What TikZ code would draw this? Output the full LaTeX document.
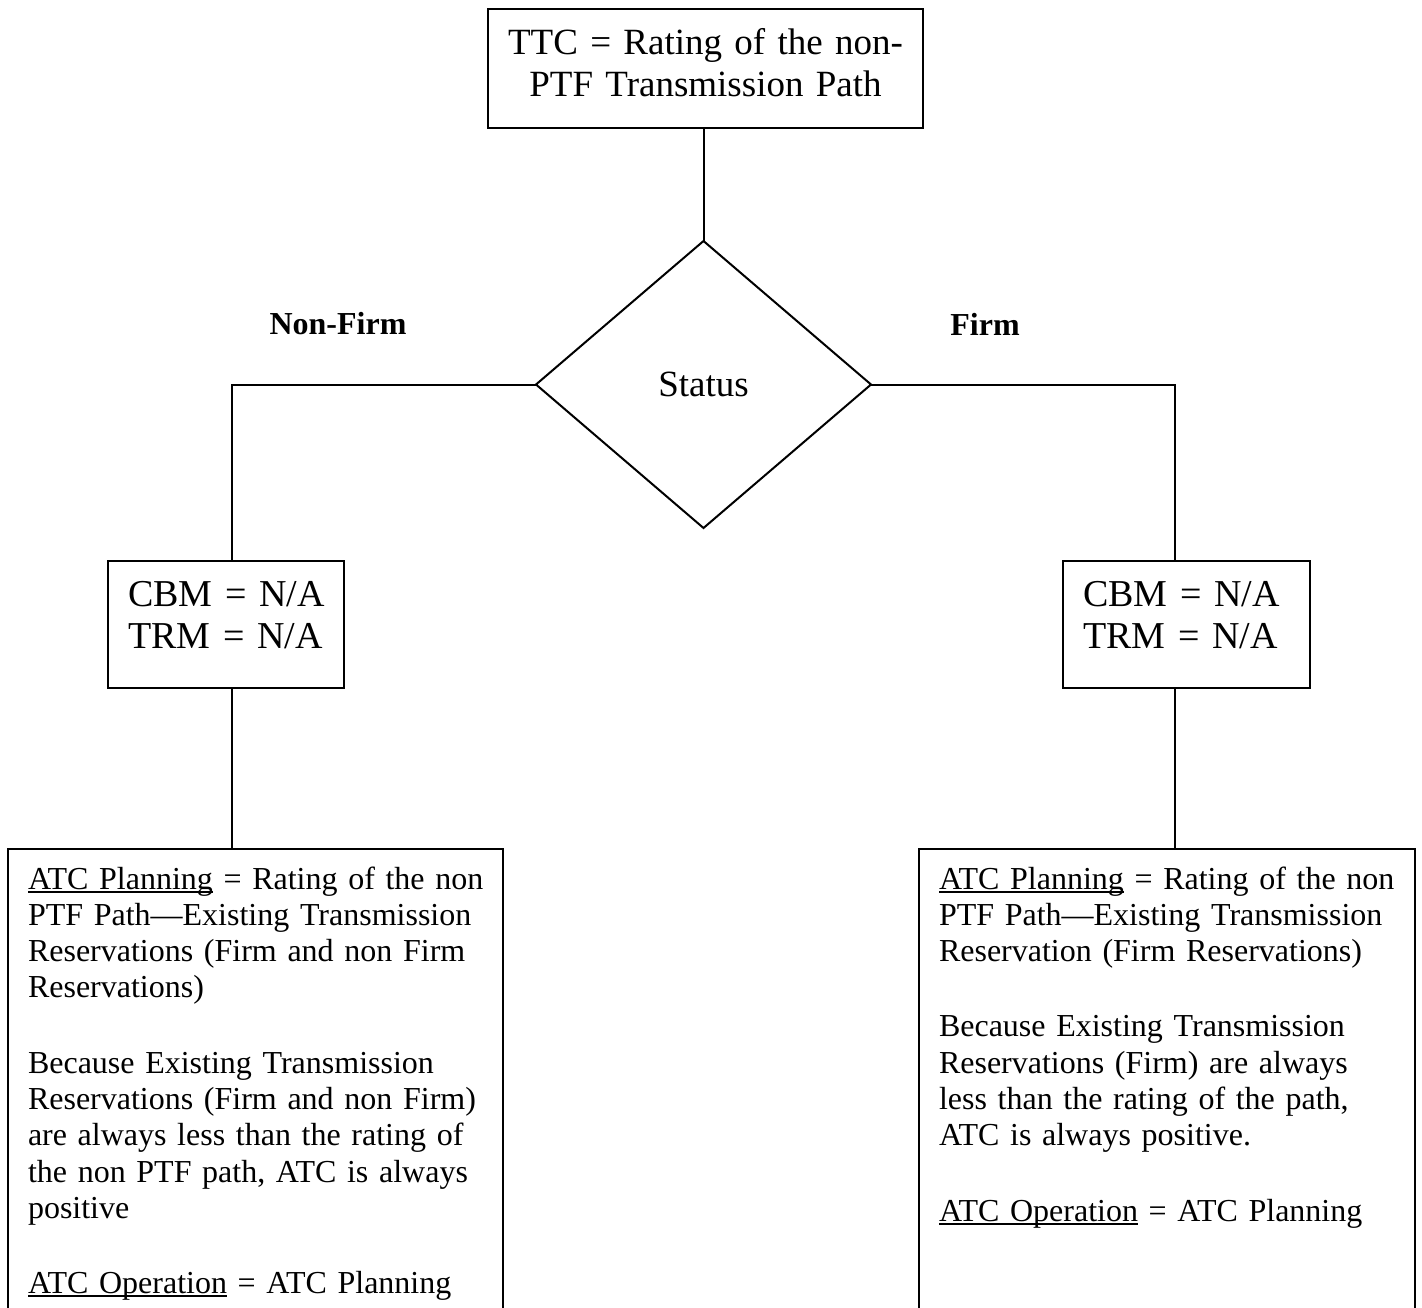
\documentclass[tikz,border=0pt]{standalone}
\usepackage{fontspec}
\setmainfont[WordSpace=0.92]{Liberation Serif}
\usetikzlibrary{shapes.geometric}
\newcommand\myul[1]{\leavevmode\setbox0\hbox{#1}\rlap{\rule[-3.5pt]{\wd0}{1.8pt}}\box0\relax}
\begin{document}
\begin{tikzpicture}[x=1pt,y=-1pt,line width=2pt,
  every node/.style={outer sep=0pt},
  topbox/.style={draw, anchor=north west, inner xsep=0pt, inner ysep=0pt, align=center,
    font=\fontsize{37}{42}\selectfont, text height=46pt, text depth=73pt},
  cbmbox/.style={draw, anchor=north west, inner xsep=20pt, inner ysep=0pt, align=left,
    font=\fontsize{38}{42}\selectfont, text height=45pt, text depth=82pt},
  atcbox/.style={draw, anchor=north west, inner xsep=20pt, inner ysep=0pt, align=left,
    font=\fontsize{32}{36.3}\selectfont, text height=40pt, text depth=520pt},
  decision/.style={draw, diamond, inner sep=0pt, minimum width=335pt, minimum height=287pt,
    font=\fontsize{37}{42}\selectfont},
  branch/.style={font=\fontsize{32}{36}\selectfont\bfseries}]
\useasboundingbox (0,0) rectangle (1422,1308);
\clip (0,0) rectangle (1422,1308);

\node[topbox, text width=435pt] (ttc) at (488,9)
  {TTC = Rating of the non-\\PTF Transmission Path};

\node[decision] (dia) at (703.5,384.5) {Status};

\node[branch] (nf) at (338,324) {Non-Firm};
\node[branch] (fi) at (985,324) {Firm};

\node[cbmbox, text width=196pt] (cbmL) at (108,561) {\mbox{CBM = N/A}\\\mbox{TRM = N/A}};
\node[cbmbox, text width=207pt] (cbmR) at (1063,561) {\mbox{CBM = N/A}\\\mbox{TRM = N/A}};

\node[atcbox, text width=455pt] (atcL) at (8,849)
  {\mbox{\myul{ATC Planning} = Rating of the non}\\
   \mbox{PTF Path—Existing Transmission}\\
   \mbox{Reservations (Firm and non Firm}\\
   Reservations)\\[39pt]
   \mbox{Because Existing Transmission}\\
   \mbox{Reservations (Firm and non Firm)}\\
   \mbox{are always less than the rating of}\\
   \mbox{the non PTF path, ATC is always}\\
   positive\\[39pt]
   \mbox{\myul{ATC Operation} = ATC Planning}};

\node[atcbox, text width=456pt] (atcR) at (919,849)
  {\mbox{\myul{ATC Planning} = Rating of the non}\\
   \mbox{PTF Path—Existing Transmission}\\
   \mbox{Reservation (Firm Reservations)}\\[39pt]
   \mbox{Because Existing Transmission}\\
   \mbox{Reservations (Firm) are always}\\
   \mbox{less than the rating of the path,}\\
   \mbox{ATC is always positive.}\\[39pt]
   \mbox{\myul{ATC Operation} = ATC Planning}};

\draw (dia.north |- ttc.south) -- (dia.north);
\draw (dia.west) -| ([xshift=6pt]cbmL.north);
\draw (dia.east) -| ([xshift=-11.5pt]cbmR.north);
\draw ([xshift=6pt]cbmL.south) -- ([xshift=6pt]cbmL.south |- atcL.north);
\draw ([xshift=-11.5pt]cbmR.south) -- ([xshift=-11.5pt]cbmR.south |- atcR.north);
\end{tikzpicture}
\end{document}
